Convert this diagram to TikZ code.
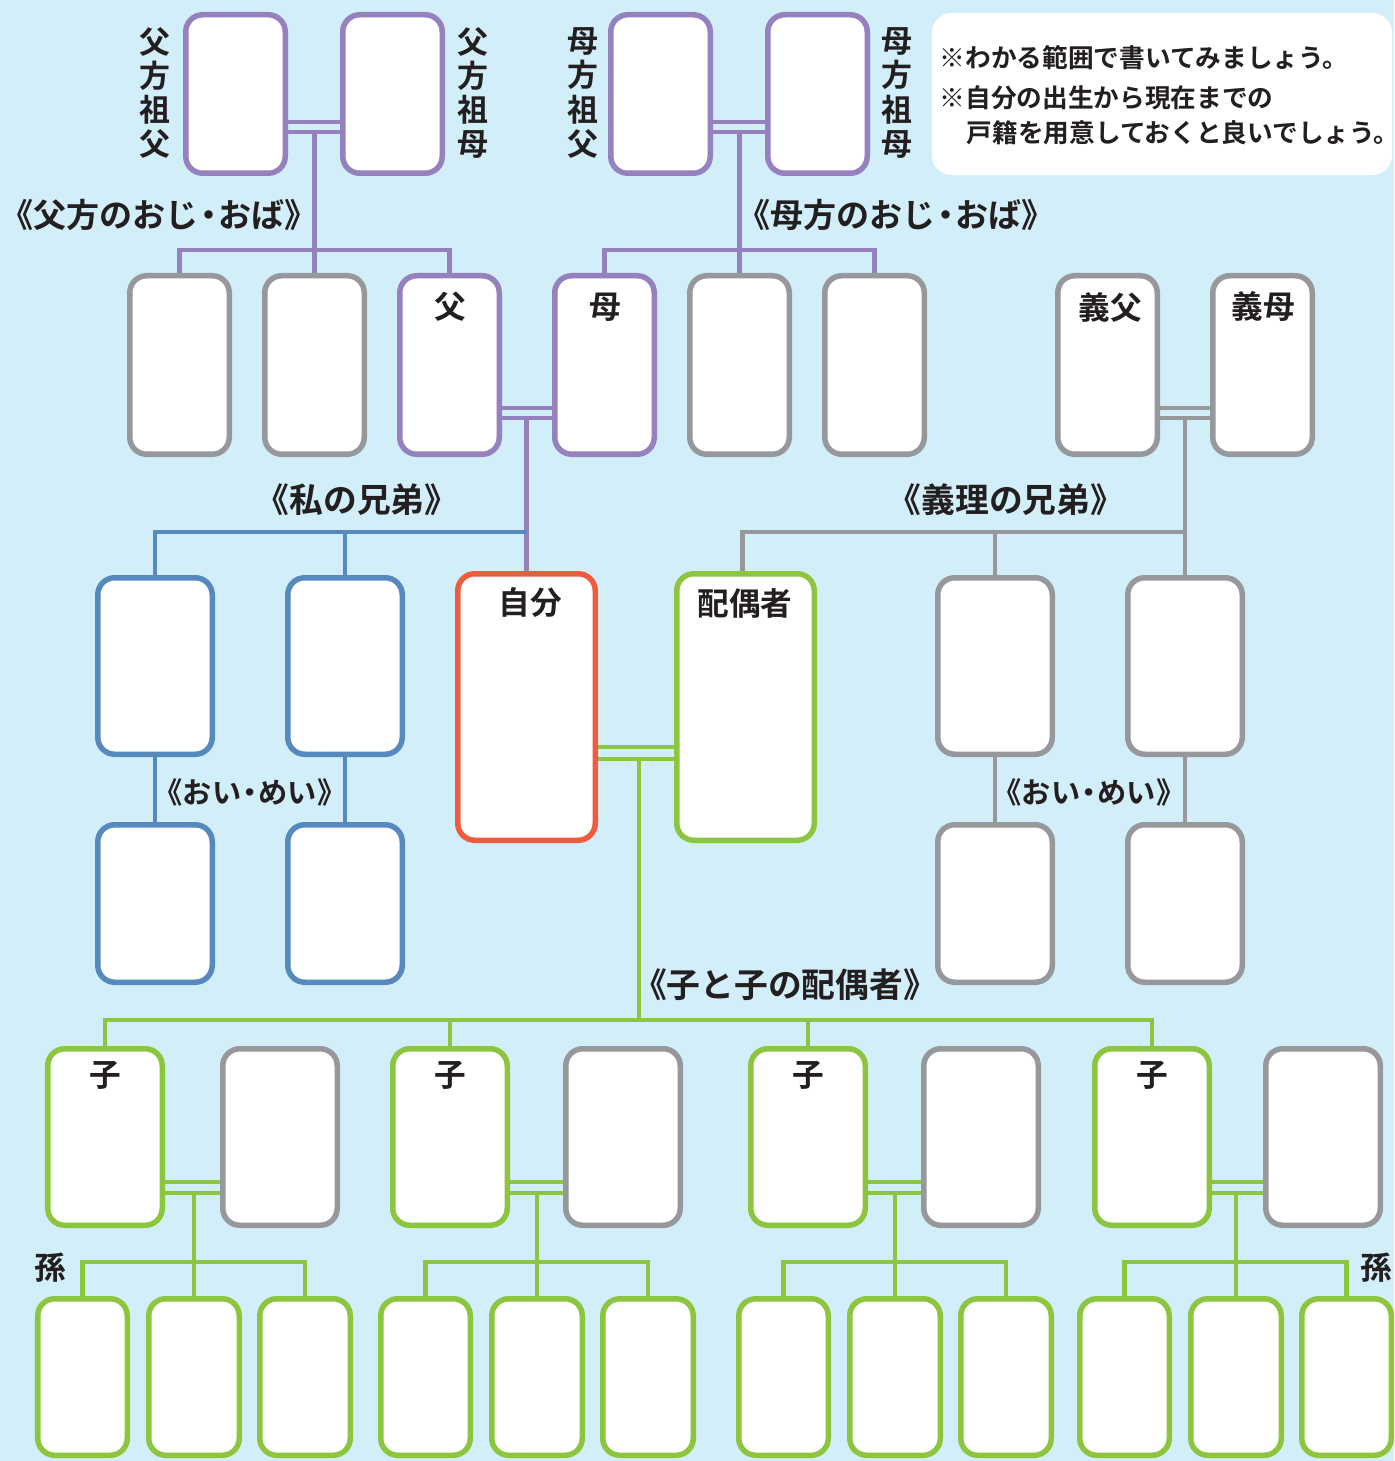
\documentclass[tikz,border=0pt]{standalone}
\usepackage{fontspec}
\setmainfont{Noto Sans CJK JP}[UprightFont=* Medium, BoldFont=* Bold]
\usetikzlibrary{backgrounds}
\definecolor{bgc}{HTML}{D2EEF9}
\definecolor{purp}{HTML}{9581BD}
\definecolor{gry}{HTML}{97989C}
\definecolor{blu}{HTML}{5689BD}
\definecolor{redc}{HTML}{EF5B3F}
\definecolor{grn}{HTML}{8CC63F}
\definecolor{txt}{HTML}{231F20}
\pgfdeclarelayer{bottom}
\pgfsetlayers{bottom,background,main}
\newcommand\kbox[6]{\node[kb,draw=#2,minimum width={(#5-#3-5.5)*0.01cm},minimum height={(#6-#4-5.5)*0.01cm}] (#1) at ({(#3+#5)/2},{(#4+#6)/2}) {};}
\newcommand\ndot{\hspace{-0.2em}・\hspace{-0.2em}}
\begin{document}
\begin{tikzpicture}[x=0.01cm,y=-0.01cm,
  kb/.style={rectangle,rounded corners=0.17cm,fill=white,line width=0.055cm,inner sep=0pt,outer sep=0pt},
  cn/.style={line width=0.048cm},
  lab/.style={text=txt,font=\fontsize{9pt}{9pt}\selectfont\bfseries,inner sep=0pt},
  hdr/.style={text=txt,font=\fontsize{9.6pt}{9.6pt}\selectfont\bfseries,inner sep=0pt},
  thdr/.style={text=txt,font=\fontsize{9.4pt}{9.4pt}\selectfont\bfseries,inner sep=0pt},
  shdr/.style={text=txt,font=\fontsize{8.3pt}{8.3pt}\selectfont\bfseries,inner sep=0pt},
  vlab/.style={text=txt,font=\fontsize{8.8pt}{9.7pt}\selectfont\bfseries,align=center,inner sep=0pt},
  notet/.style={text=txt,font=\fontsize{7.3pt}{7.3pt}\selectfont\bfseries,inner sep=0pt,anchor=west}]
\useasboundingbox (0,0) rectangle (1394,1461);
\begin{pgfonlayer}{bottom}
\fill[bgc] (0,0) rectangle (1394,1461);
\end{pgfonlayer}
% levels
\coordinate (L122) at (0,122);
\coordinate (L132) at (0,132);
\coordinate (L250) at (0,250);
\coordinate (L408) at (0,408);
\coordinate (L418) at (0,418);
\coordinate (L532) at (0,532);
\coordinate (L747) at (0,747);
\coordinate (L759) at (0,759);
\coordinate (L1020) at (0,1020);
\coordinate (L1182) at (0,1182);
\coordinate (L1193) at (0,1193);
\coordinate (L1262) at (0,1262);
\coordinate (cstem) at (639,1020);
% note box
\node[fill=white,rounded corners=0.2cm,minimum width=4.6cm,minimum height=1.62cm,inner sep=0pt] (note) at (1162,94) {};
\node[notet] (n1) at (939,58) {※わかる範囲で書いてみましょう。};
\node[notet] (n2) at (939,98) {※自分の出生から現在までの};
\node[notet] (n3) at (966,133) {戸籍を用意しておくと良いでしょう。};
% row 1
\kbox{pgf}{purp}{183}{12}{288}{176}
\kbox{pgm}{purp}{340}{12}{445}{176}
\kbox{mgf}{purp}{608}{12}{713}{176}
\kbox{mgm}{purp}{765}{12}{870}{176}
\node[vlab] (v1) at (155,93) {父\\方\\祖\\父};
\node[vlab] (v2) at (473,93) {父\\方\\祖\\母};
\node[vlab] (v3) at (583,93) {母\\方\\祖\\父};
\node[vlab] (v4) at (897,93) {母\\方\\祖\\母};
\node[thdr] (h1) at (159,215) {《父方のおじ\ndot おば》};
\node[thdr] (h2) at (896,215) {《母方のおじ\ndot おば》};
% row 2
\kbox{au1}{gry}{127}{273}{232}{457}
\kbox{au2}{gry}{262}{273}{367}{457}
\kbox{fa}{purp}{397}{273}{502}{457}
\kbox{mo}{purp}{552}{273}{657}{457}
\kbox{au3}{gry}{687}{273}{792}{457}
\kbox{au4}{gry}{822}{273}{927}{457}
\kbox{ifa}{gry}{1055}{273}{1160}{457}
\kbox{imo}{gry}{1210}{273}{1315}{457}
\node[lab] (t1) at (450,307) {父};
\node[lab] (t2) at (605,307) {母};
\node[lab] (t3) at (1110,307) {義父};
\node[lab] (t4) at (1263,307) {義母};
\node[hdr] (h3) at (357,500) {《私の兄弟》};
\node[hdr] (h4) at (1006,500) {《義理の兄弟》};
% row 3
\kbox{sib1}{blu}{95}{575}{215}{757}
\kbox{sib2}{blu}{285}{575}{405}{757}
\kbox{self}{redc}{455}{571}{598}{843}
\kbox{spouse}{grn}{674}{571}{817}{843}
\kbox{sil1}{gry}{935}{575}{1055}{757}
\kbox{sil2}{gry}{1125}{575}{1245}{757}
\node[lab] (t5) at (530,603) {自分};
\node[lab] (t6) at (745,603) {配偶者};
% row 4
\kbox{nep1}{blu}{95}{822}{215}{985}
\kbox{nep2}{blu}{285}{822}{405}{985}
\kbox{nep3}{gry}{935}{822}{1055}{985}
\kbox{nep4}{gry}{1125}{822}{1245}{985}
\node[shdr] (h5) at (250,792) {《おい\ndot めい》};
\node[shdr] (h6) at (1089,792) {《おい\ndot めい》};
\node[hdr] (h7) at (785,985) {《子と子の配偶者》};
% row 5
\kbox{c1}{grn}{45}{1046}{165}{1228}
\kbox{s1}{gry}{220}{1046}{340}{1228}
\kbox{c2}{grn}{390}{1046}{510}{1228}
\kbox{s2}{gry}{563}{1046}{683}{1228}
\kbox{c3}{grn}{748}{1046}{868}{1228}
\kbox{s3}{gry}{921}{1046}{1041}{1228}
\kbox{c4}{grn}{1092}{1046}{1212}{1228}
\kbox{s4}{gry}{1263}{1046}{1383}{1228}
\node[lab] (k1) at (105,1075) {子};
\node[lab] (k2) at (450,1075) {子};
\node[lab] (k3) at (808,1075) {子};
\node[lab] (k4) at (1152,1075) {子};
\node[lab] (m1) at (50,1268) {孫};
\node[lab] (m2) at (1376,1268) {孫};
% row 6
\kbox{g11}{grn}{35}{1296}{130}{1458}
\kbox{g12}{grn}{146}{1296}{242}{1458}
\kbox{g13}{grn}{257}{1296}{353}{1458}
\kbox{g21}{grn}{378}{1296}{473}{1458}
\kbox{g22}{grn}{489}{1296}{585}{1458}
\kbox{g23}{grn}{600}{1296}{696}{1458}
\kbox{g31}{grn}{736}{1296}{831}{1458}
\kbox{g32}{grn}{847}{1296}{943}{1458}
\kbox{g33}{grn}{958}{1296}{1054}{1458}
\kbox{g41}{grn}{1077}{1296}{1172}{1458}
\kbox{g42}{grn}{1188}{1296}{1284}{1458}
\kbox{g43}{grn}{1299}{1296}{1394}{1458}
% connectors
\begin{pgfonlayer}{background}
\draw[cn,purp] (pgf.east|-L122) -- (pgm.west|-L122);
\draw[cn,purp] (pgf.east|-L132) -- (pgm.west|-L132);
\draw[cn,purp] (au2.north) -- (au2.north|-L132);
\draw[cn,purp] (au1.north) -- (au1.north|-L250) -- (fa.north|-L250) -- (fa.north);
\draw[cn,purp] (mgf.east|-L122) -- (mgm.west|-L122);
\draw[cn,purp] (mgf.east|-L132) -- (mgm.west|-L132);
\draw[cn,purp] (au3.north) -- (au3.north|-L132);
\draw[cn,purp] (mo.north) -- (mo.north|-L250) -- (au4.north|-L250) -- (au4.north);
\draw[cn,purp] (fa.east|-L408) -- (mo.west|-L408);
\draw[cn,purp] (fa.east|-L418) -- (mo.west|-L418);
\draw[cn,purp] (self.north) -- (self.north|-L418);
\draw[cn,blu] (sib1.north) -- (sib1.north|-L532) -- (self.north|-L532);
\draw[cn,blu] (sib2.north) -- (sib2.north|-L532);
\draw[cn,blu] (sib1.south) -- (nep1.north);
\draw[cn,blu] (sib2.south) -- (nep2.north);
\draw[cn,gry] (ifa.east|-L408) -- (imo.west|-L408);
\draw[cn,gry] (ifa.east|-L418) -- (imo.west|-L418);
\draw[cn,gry] (sil2.north) -- (sil2.north|-L418);
\draw[cn,gry] ([xshift=-0.03cm]spouse.north) -- ([xshift=-0.03cm]spouse.north|-L532) -- (sil2.north|-L532);
\draw[cn,gry] (sil1.north) -- (sil1.north|-L532);
\draw[cn,gry] (sil1.south) -- (nep3.north);
\draw[cn,gry] (sil2.south) -- (nep4.north);
\draw[cn,grn] (self.east|-L747) -- (spouse.west|-L747);
\draw[cn,grn] (self.east|-L759) -- (spouse.west|-L759);
\draw[cn,grn] (cstem) -- (cstem|-L759);
\draw[cn,grn] (c1.north) -- (c1.north|-L1020) -- (c4.north|-L1020) -- (c4.north);
\draw[cn,grn] (c2.north) -- (c2.north|-L1020);
\draw[cn,grn] (c3.north) -- (c3.north|-L1020);
\foreach \i in {1,2,3,4}{
  \draw[cn,grn] (c\i.east|-L1182) -- (s\i.west|-L1182);
  \draw[cn,grn] (c\i.east|-L1193) -- (s\i.west|-L1193);
  \draw[cn,grn] (g\i2.north) -- (g\i2.north|-L1193);
  \draw[cn,grn] (g\i1.north) -- (g\i1.north|-L1262) -- (g\i3.north|-L1262) -- (g\i3.north);
}
\end{pgfonlayer}
\end{tikzpicture}
\end{document}
